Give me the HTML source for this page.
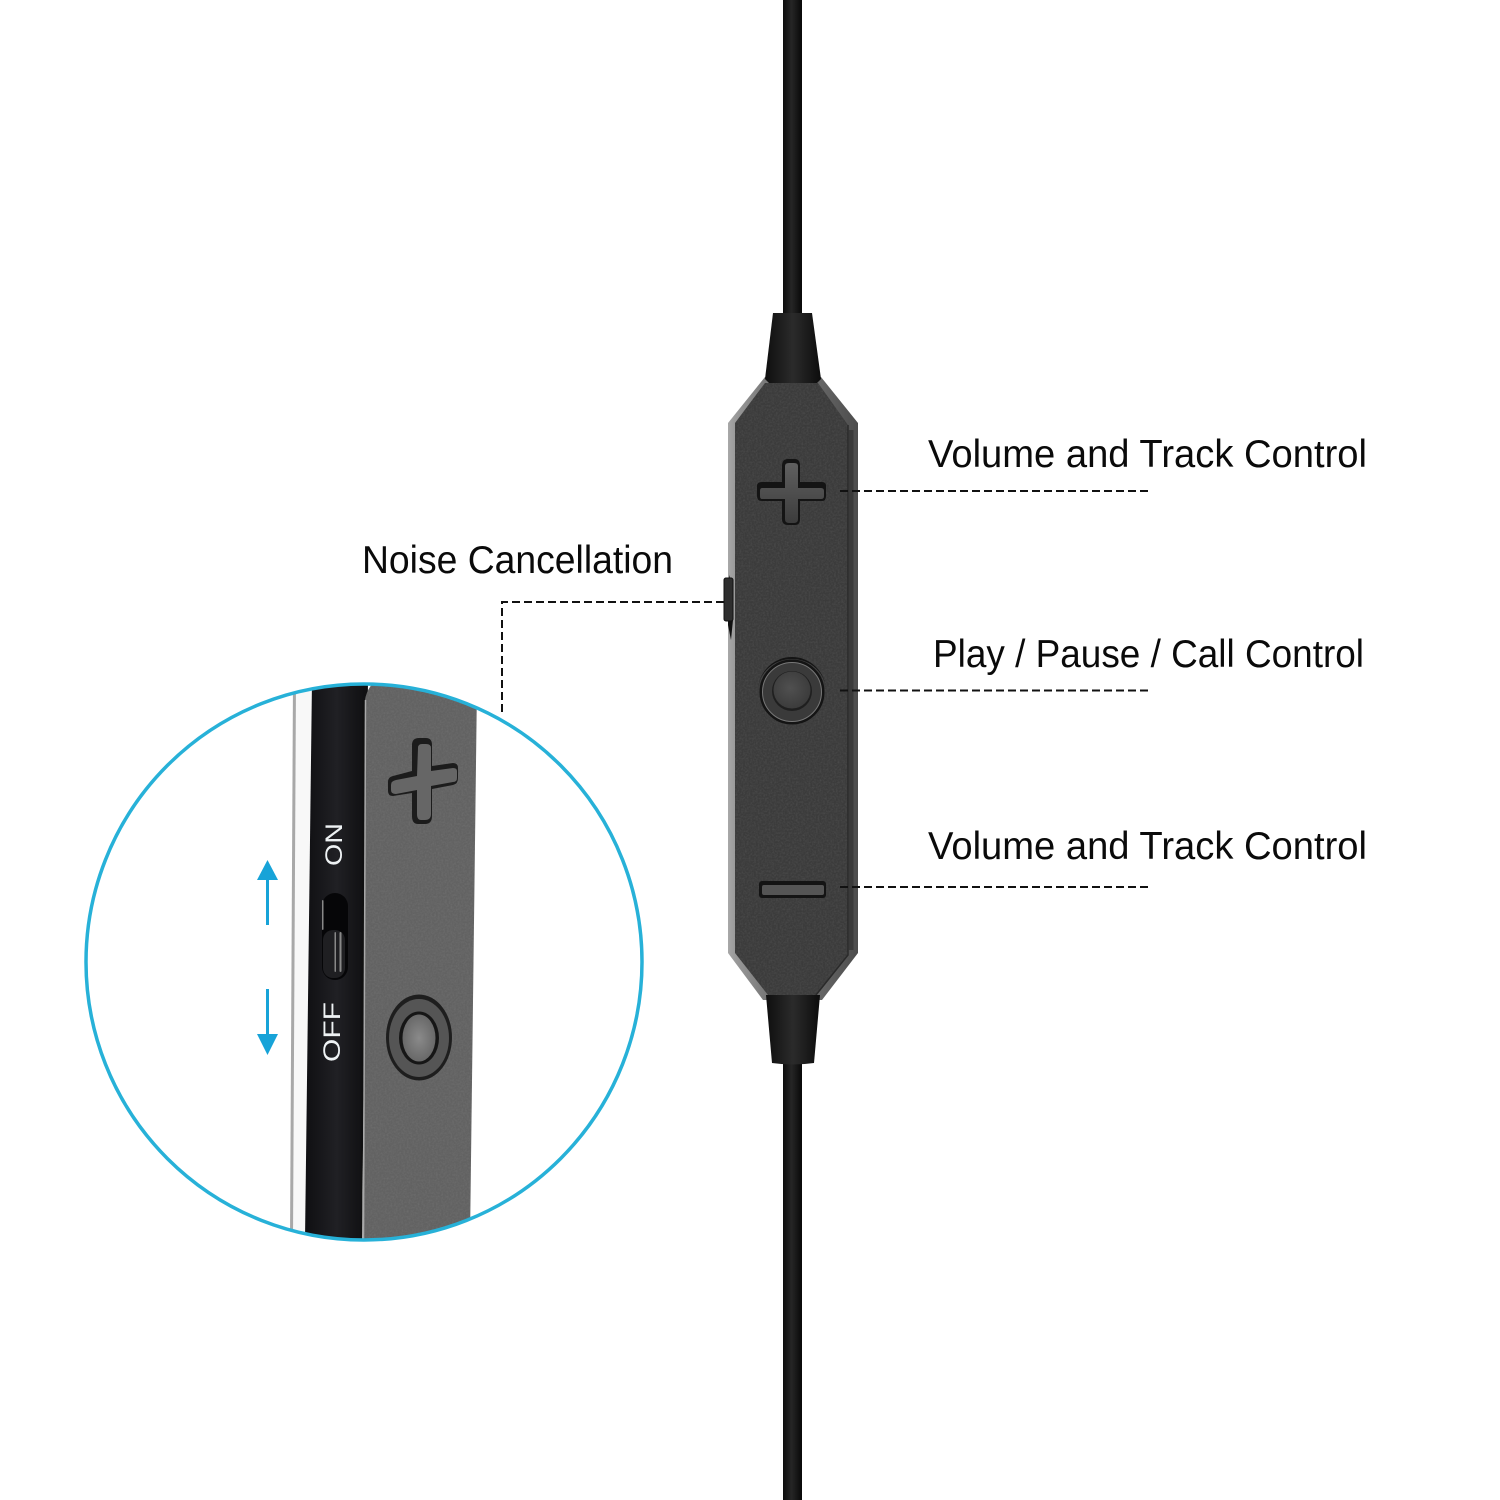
<!DOCTYPE html>
<html lang="en">
<head>
<meta charset="utf-8">
<title>Earphone controls</title>
<style>
html,body{margin:0;padding:0;background:#fff;width:1500px;height:1500px;overflow:hidden}
svg{display:block}
text{font-family:"Liberation Sans",sans-serif}
</style>
</head>
<body>
<svg width="1500" height="1500" viewBox="0 0 1500 1500" xmlns="http://www.w3.org/2000/svg">
<defs>
  <filter id="grain" x="0" y="0" width="100%" height="100%">
    <feTurbulence type="fractalNoise" baseFrequency="0.55" numOctaves="2" seed="4"/>
    <feColorMatrix type="matrix" values="0 0 0 0 1  0 0 0 0 1  0 0 0 0 1  0.5 0 0 0 -0.17"/>
    <feComposite in2="SourceAlpha" operator="in"/>
  </filter>
  <linearGradient id="cable" x1="0" x2="1" y1="0" y2="0">
    <stop offset="0" stop-color="#0d0d0d"/><stop offset=".45" stop-color="#262626"/><stop offset="1" stop-color="#080808"/>
  </linearGradient>
  <linearGradient id="relief" x1="0" x2="1" y1="0" y2="0">
    <stop offset="0" stop-color="#0e0e0e"/><stop offset=".5" stop-color="#2b2b2b"/><stop offset="1" stop-color="#0c0c0c"/>
  </linearGradient>
  <linearGradient id="shell" x1="0" x2="1" y1="0" y2="0">
    <stop offset="0" stop-color="#a8a8a8"/><stop offset=".055" stop-color="#9a9a9a"/><stop offset=".3" stop-color="#777"/><stop offset=".7" stop-color="#666"/><stop offset="1" stop-color="#4c4c4c"/>
  </linearGradient>
  <linearGradient id="side" x1="0" x2="1" y1="0" y2="0">
    <stop offset="0" stop-color="#0f0f12"/><stop offset=".5" stop-color="#202024"/><stop offset="1" stop-color="#0e0e10"/>
  </linearGradient>
  <linearGradient id="key" x1="0" x2="0" y1="0" y2="1">
    <stop offset="0" stop-color="#606060"/><stop offset="1" stop-color="#3c3c3c"/>
  </linearGradient>
  <radialGradient id="disc" cx=".45" cy=".45" r=".6">
    <stop offset="0" stop-color="#505050"/><stop offset="1" stop-color="#3a3a3a"/>
  </radialGradient>
  <radialGradient id="disc2" cx=".5" cy=".5" r=".6">
    <stop offset="0" stop-color="#8a8a8a"/><stop offset="1" stop-color="#626262"/>
  </radialGradient>
  <clipPath id="lens"><circle cx="364" cy="962" r="277"/></clipPath>
</defs>

<!-- Cable -->
<rect x="783" y="0" width="19" height="320" fill="url(#cable)"/>
<rect x="783" y="1060" width="19" height="440" fill="url(#cable)"/>

<!-- Body -->
<path d="M765 377 H821 L858 423 V953 L822 1000 H763 L728 953 V423 Z" fill="url(#shell)"/>
<path d="M765 383 H818 L848 425 V955 L816 995 H768 L735 953 V423 Z" fill="#3b3b3b"/>
<path d="M765 383 H818 L848 425 V955 L816 995 H768 L735 953 V423 Z" fill="#fff" filter="url(#grain)" opacity=".28"/>
<path d="M848 425 V955 L816 995" fill="none" stroke="#2a2a2a" stroke-width="1.500"/>
<path d="M851 430 V950" fill="none" stroke="#3a3a3a" stroke-width="5"/>

<!-- Side switch -->
<path d="M729.500 575 L728 590 V625 L731 640 L733 620 L733 590 Z" fill="#111"/>
<rect x="724" y="578" width="9" height="43" rx="2" fill="#2e2e2e" stroke="#111"/>

<!-- Strain reliefs -->
<path d="M773 313 H812 L821 379 L817 383 H769 L765 379 Z" fill="url(#relief)"/>
<path d="M766 995 H820 L814 1063 Q793 1066 772 1063 Z" fill="url(#relief)"/>

<!-- Plus key -->
<path d="M782 466 Q782 459 788 459 H795 Q800 459 800 466 V482 H822 Q826 482 826 486 V496 Q826 501 822 501 H800 V519 Q800 525 795 525 H788 Q782 525 782 519 V501 H762 Q757 501 757 496 V486 Q757 482 762 482 H782 Z" fill="#141414"/>
<path d="M785 466 Q785 463 789 463 H794 Q798 463 798 466 V488 H821 Q824 488 824 491 V496 Q824 499 821 499 H798 V519 Q798 523 794 523 H789 Q785 523 785 519 V499 H762 Q760 499 760 496 V491 Q760 488 762 488 H785 Z" fill="url(#key)"/>

<!-- Round key -->
<path d="M758 691 A34 34 0 0 1 826 691 A34 32 0 0 0 758 691 Z" fill="#141414"/>
<circle cx="792" cy="692" r="31" fill="#3a3a3a" stroke="#141414" stroke-width="3"/>
<circle cx="792" cy="692" r="29.500" fill="none" stroke="#777" stroke-width="1"/>
<circle cx="792" cy="691" r="20" fill="#1f1f1f"/>
<circle cx="792" cy="690" r="18.500" fill="url(#disc)"/>

<!-- Minus key -->
<rect x="759" y="881" width="67" height="17" rx="3" fill="#141414"/>
<rect x="762" y="885" width="62" height="10" rx="2" fill="#555"/>

<!-- Dashed leaders -->
<g stroke="#111" stroke-width="2" fill="none" stroke-dasharray="8 4">
  <path d="M840 491 H1149"/>
  <path d="M840 690.500 H1149"/>
  <path d="M840 887 H1149"/>
  <path d="M724 602 H502 V716"/>
</g>

<!-- Labels -->
<g fill="#0a0a0a" font-size="39">
  <text x="928" y="467" textLength="439" lengthAdjust="spacingAndGlyphs">Volume and Track Control</text>
  <text x="933" y="667" textLength="431" lengthAdjust="spacingAndGlyphs">Play / Pause / Call Control</text>
  <text x="928" y="859" textLength="439" lengthAdjust="spacingAndGlyphs">Volume and Track Control</text>
  <text x="362" y="573" textLength="311" lengthAdjust="spacingAndGlyphs">Noise Cancellation</text>
</g>

<!-- Magnified inset -->
<circle cx="364" cy="962" r="278" fill="#fff"/>
<g clip-path="url(#lens)">
  <path d="M293 680 L297 680 L294 1240 L290 1240 Z" fill="#a8a8a8"/>
  <path d="M296 680 H312 L305 1240 H293 Z" fill="#f8f8f8"/>
  <path d="M312 680 H368 L362 1240 H305 Z" fill="url(#side)"/>
  <path d="M368 684 L477 684 L470 1240 L363 1240 L365 700 Q366 692 372 684 Z" fill="#626262"/>
  <path d="M368 684 L477 684 L470 1240 L363 1240 L365 700 Q366 692 372 684 Z" fill="#fff" filter="url(#grain)" opacity=".25"/>
  <path d="M363.500 700 L361.500 1240" stroke="#111" stroke-width="1.500" fill="none"/>
  <path d="M365.500 700 L363.500 1240" stroke="#a8a8a8" stroke-width="1.500" fill="none"/>

  <!-- inset plus -->
  <path d="M412 745 Q412 738 419 738 H426 Q432 738 432 745 V766 L453 763 Q458 763 458 768 V778 Q458 784 453 785 L432 789 V816 Q432 824 425 824 H418 Q412 824 412 816 V793 L393 796 Q388 796 388 791 V782 Q388 777 393 776 L412 771 Z" fill="#1c1c1c"/>
  <path d="M418 748 Q418 744 422 744 H426 Q431 744 431 748 V771 L453 768 Q457 768 457 771 V778 Q457 782 453 782 L431 786 V814 Q431 820 425 820 H421 Q417 820 417 814 V790 L396 794 Q391 794 391 790 V785 Q391 781 396 780 L417 776 Z" fill="#666"/>

  <!-- inset round key -->
  <ellipse cx="419" cy="1037.500" rx="33" ry="43" fill="#1e1e1e"/>
  <ellipse cx="419" cy="1038" rx="30" ry="39" fill="#555"/>
  <ellipse cx="419" cy="1038" rx="20" ry="26.500" fill="#161616"/>
  <ellipse cx="419" cy="1038" rx="16.500" ry="23.500" fill="url(#disc2)"/>

  <!-- slide switch -->
  <rect x="322" y="893" width="26" height="87" rx="13" fill="#060608"/>
  <rect x="322" y="900" width="1.500" height="30" rx="1" fill="#888"/>
  <rect x="323" y="930" width="22" height="48" rx="10" fill="#1f1f22"/>
  <rect x="334.500" y="932" width="1.500" height="40" rx="1" fill="#888"/>
  <rect x="339.500" y="932" width="2" height="40" rx="1" fill="#888"/>

  <g fill="#eef2f4" font-size="24">
    <text transform="translate(342,866) rotate(-90)" textLength="43" lengthAdjust="spacingAndGlyphs">ON</text>
    <text transform="translate(340,1062) rotate(-90)" textLength="60" lengthAdjust="spacingAndGlyphs">OFF</text>
  </g>
</g>
<circle cx="364" cy="962" r="278" fill="none" stroke="#27b1d8" stroke-width="3.500"/>

<!-- Direction arrows -->
<g fill="#17a3d8">
  <rect x="266" y="878" width="3" height="47"/>
  <path d="M267.500 860 L278 880 H257 Z"/>
  <rect x="266" y="989" width="3" height="47"/>
  <path d="M267.500 1055 L278 1034 H257 Z"/>
</g>
</svg>
</body>
</html>
